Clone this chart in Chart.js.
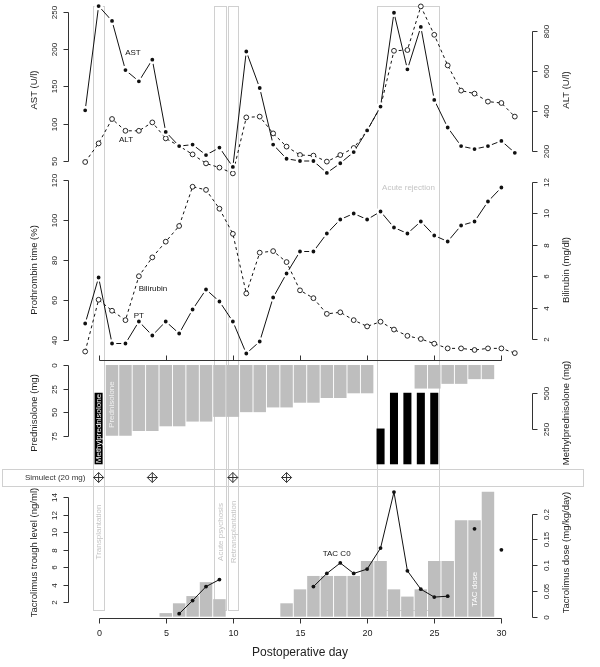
<!DOCTYPE html>
<html>
<head>
<meta charset="utf-8">
<script src="https://cdn.jsdelivr.net/npm/chart.js@4.4.0/dist/chart.umd.min.js"></script>
<style>
body { margin: 0; background: #fff; }
#wrap { position: relative; width: 600px; height: 667px; }
#wrap canvas { position: absolute; left: 0; top: 0; }
</style>
</head>
<body>
<div id="wrap">
  <canvas id="c1" width="600" height="667"></canvas>
  <canvas id="c2" width="600" height="667"></canvas>
  <canvas id="c3" width="600" height="667"></canvas>
  <canvas id="c4" width="600" height="667"></canvas>
  <canvas id="c5" width="600" height="667"></canvas>
</div>
<script>
// postoperative days, -1 .. 31
var days = [-1, 0, 1, 2, 3, 4, 5, 6, 7, 8, 9, 10, 11, 12, 13, 14, 15, 16, 17, 18, 19, 20, 21, 22, 23, 24, 25, 26, 27, 28, 29, 30, 31];

var ast = [118, 258, 238, 172, 157, 186, 89, 70, 72, 58, 68, 42, 197, 148, 72, 53, 50, 50, 34, 47, 62, 91, 123, 249, 173, 230, 132, 95, 70, 66, 70, 77, 61];
var alt = [145, 238, 360, 301, 301, 343, 263, 225, 183, 138, 117, 88, 368, 372, 288, 222, 180, 177, 147, 180, 215, 302, 421, 701, 705, 923, 781, 628, 502, 487, 447, 440, 372];
var pt = [48, 71, 38, 38, 49, 42, 49, 43, 55, 65, 59, 49, 33, 39, 61, 73, 84, 84, 93, 100, 103, 100, 104, 96, 93, 99, 92, 89, 97, 99, 109, 116, null];
var bili = [1.2, 4.5, 3.8, 3.2, 6.0, 7.2, 8.2, 9.2, 11.7, 11.5, 10.3, 8.7, 4.9, 7.5, 7.6, 6.9, 5.1, 4.6, 3.6, 3.7, 3.2, 2.8, 3.1, 2.6, 2.2, 2.0, 1.7, 1.4, 1.4, 1.3, 1.4, 1.4, 1.1];

var pred = [null, null, 75, 75, 70, 70, 65, 65, 60, 60, 55, 55, 50, 50, 45, 45, 40, 40, 35, 35, 30, 30, null, null, null, 25, 25, 20, 20, 15, 15, null, null];
var methyl = [null, 500, null, null, null, null, null, null, null, null, null, null, null, null, null, null, null, null, null, null, null, null, 250, 500, 500, 500, 500, null, null, null, null, null, null];

var tacDose = [null, null, null, null, null, null, 0.007, 0.026, 0.040, 0.067, 0.034, null, null, null, null, 0.026, 0.053, 0.079, 0.079, 0.079, 0.079, 0.108, 0.108, 0.053, 0.039, 0.053, 0.108, 0.108, 0.187, 0.187, 0.242, null, null];
var tacC0 = [null, null, null, null, null, null, null, 0.7, 2.2, 3.8, 4.6, null, null, null, null, null, null, 3.8, 5.3, 6.5, 5.3, 5.8, 8.2, 14.6, 5.6, 3.5, 2.6, 2.7, null, 10.4, null, 8.0, null];

var simulectDays = [0, 4, 10, 14];

var eventNames = ['Transplantation', 'Acute psychosis', 'Retransplantation', 'Acute rejection'];
var eventFrom = [-0.42, 8.6, 9.64, 20.74];
var eventTo = [0.4, 9.5, 10.38, 25.35];

var astTicks = [50, 100, 150, 200, 250];
var altTicks = [200, 400, 600, 800];
var ptTicks = [40, 60, 80, 100, 120];
var biliTicks = [2, 4, 6, 8, 10, 12];
var predTicks = [0, 25, 50, 75];
var methylTicks = [250, 500];
var tacTicks = [2, 4, 6, 8, 10, 12, 14];
var doseTicks = [0, 0.05, 0.1, 0.15, 0.2];
var dayTicks = [0, 5, 10, 15, 20, 25, 30];

var FONT = '"Liberation Sans", Arial, Helvetica, sans-serif';
var X_MIN = -2.28, X_MAX = 32.28;
var GREY_BAR = '#bebebe';
var AXES = {}, NOTES = {};

function xy(arr, keepNull) {
  var out = [];
  days.forEach(function(d, i) {
    if (arr[i] !== null || keepNull) out.push({x: d, y: arr[i]});
  });
  return out;
}

// R style axes: line only between first and last tick
function drawAxis(chart, a) {
  var ctx = chart.ctx, area = chart.chartArea, sc = chart.scales[a.scale];
  var ps = a.ticks.map(function(v) { return Math.round(sc.getPixelForValue(v)) + 0.5; });
  ctx.save();
  ctx.strokeStyle = '#333';
  ctx.fillStyle = '#222';
  ctx.lineWidth = 1;
  ctx.textAlign = 'center';
  ctx.textBaseline = 'middle';
  ctx.beginPath();
  if (a.side === 'left' || a.side === 'right') {
    var x0 = Math.round(a.side === 'left' ? area.left : area.right) + 0.5;
    var dir = a.side === 'left' ? -1 : 1;
    ctx.moveTo(x0, ps[0]); ctx.lineTo(x0, ps[ps.length - 1]);
    ps.forEach(function(p) { ctx.moveTo(x0, p); ctx.lineTo(x0 + dir * 5, p); });
    ctx.stroke();
    ctx.font = '8px ' + FONT;
    ps.forEach(function(p, i) {
      ctx.save();
      ctx.translate(x0 + dir * 14, p);
      ctx.rotate(-Math.PI / 2);
      ctx.fillText(String(a.ticks[i]), 0, 0);
      ctx.restore();
    });
    ctx.font = '9.5px ' + FONT;
    ctx.translate(x0 + dir * 34, (area.top + area.bottom) / 2);
    ctx.rotate(-Math.PI / 2);
    ctx.fillText(a.title, 0, 0);
  } else {
    var y0 = Math.round(a.side === 'top' ? area.top : area.bottom) + 0.5;
    var dy = a.side === 'top' ? -1 : 1;
    ctx.moveTo(ps[0], y0); ctx.lineTo(ps[ps.length - 1], y0);
    ps.forEach(function(p) { ctx.moveTo(p, y0); ctx.lineTo(p, y0 + dy * 5); });
    ctx.stroke();
    if (a.labels) {
      ctx.font = '9px ' + FONT;
      ps.forEach(function(p, i) { ctx.fillText(String(a.ticks[i]), p, y0 + 15); });
    }
    if (a.title) {
      ctx.font = '12px ' + FONT;
      ctx.fillText(a.title, (area.left + area.right) / 2, y0 + 34);
    }
  }
  ctx.restore();
}

function drawNote(chart, n) {
  var ctx = chart.ctx;
  var x = chart.scales.x.getPixelForValue(n.x);
  var y = chart.scales[n.axis].getPixelForValue(n.y);
  ctx.save();
  ctx.fillStyle = n.color || '#111';
  ctx.font = (n.size || 8) + 'px ' + FONT;
  ctx.textAlign = 'center';
  ctx.textBaseline = 'middle';
  ctx.translate(x, y);
  if (n.rotate) ctx.rotate(-Math.PI / 2);
  ctx.fillText(n.text, 0, 0);
  ctx.restore();
}

var rDecor = {
  id: 'rDecor',
  beforeDatasetsDraw: function(chart) {
    var ctx = chart.ctx, sx = chart.scales.x;
    if (chart.canvas.id === 'c1') {
      // event boxes over all panels
      ctx.save();
      ctx.strokeStyle = '#d0d0d0';
      ctx.lineWidth = 1;
      eventNames.forEach(function(name, i) {
        var x0 = Math.round(sx.getPixelForValue(eventFrom[i])) + 0.5;
        var x1 = Math.round(sx.getPixelForValue(eventTo[i])) + 0.5;
        ctx.strokeRect(x0, 6.5, x1 - x0, 604);
        ctx.save();
        ctx.fillStyle = '#c4c4c4';
        ctx.font = '8px ' + FONT;
        ctx.textAlign = 'center';
        ctx.textBaseline = 'middle';
        if (i === 3) {
          ctx.fillText(name, (x0 + x1) / 2, 188);
        } else {
          ctx.translate((x0 + x1) / 2, 532);
          ctx.rotate(-Math.PI / 2);
          ctx.fillText(name, 0, 0);
        }
        ctx.restore();
      });
      ctx.restore();
    }
    if (chart.canvas.id === 'c4') {
      ctx.save();
      ctx.strokeStyle = '#d0d0d0';
      ctx.lineWidth = 1;
      ctx.strokeRect(2.5, 469.5, 581, 17);
      ctx.fillStyle = '#333';
      ctx.font = '8px ' + FONT;
      ctx.textBaseline = 'middle';
      ctx.fillText('Simulect (20 mg)', 25, 478);
      ctx.restore();
    }
  },
  afterDatasetsDraw: function(chart) {
    (AXES[chart.canvas.id] || []).forEach(function(a) { drawAxis(chart, a); });
    (NOTES[chart.canvas.id] || []).forEach(function(n) { drawNote(chart, n); });
  }
};

function baseOptions(top, bottom, scales) {
  scales.x = {type: 'linear', min: X_MIN, max: X_MAX, offset: false, display: false};
  return {
    responsive: false,
    animation: false,
    events: [],
    layout: {autoPadding: false, padding: {left: 68, right: 68, top: top, bottom: 667 - bottom}},
    plugins: {legend: {display: false}, tooltip: {enabled: false}},
    scales: scales
  };
}

// filled dots get a white ring so the line stops short of them (like R type "b")
function lineSet(data, axis, open, dash, noRing) {
  var ring = !open && !noRing;
  return {
    type: 'line',
    data: data,
    yAxisID: axis,
    borderColor: '#111',
    borderWidth: 1,
    borderDash: dash ? [3, 3] : [],
    tension: 0,
    clip: false,
    pointRadius: open ? 2.4 : (ring ? 3.1 : 1.9),
    pointBorderWidth: open ? 0.9 : (ring ? 2.4 : 0),
    pointBorderColor: open ? '#111' : '#fff',
    pointBackgroundColor: open ? '#fff' : '#111'
  };
}

// panel 1: AST / ALT
AXES.c1 = [
  {scale: 'ast', side: 'left', ticks: astTicks, title: 'AST (U/l)'},
  {scale: 'alt', side: 'right', ticks: altTicks, title: 'ALT (U/l)'}
];
NOTES.c1 = [
  {x: 2.56, axis: 'ast', y: 195, text: 'AST'},
  {x: 2.04, axis: 'ast', y: 78, text: 'ALT'}
];
new Chart(document.getElementById('c1'), {
  type: 'line',
  data: {datasets: [
    lineSet(xy(ast, true), 'ast', false, false),
    lineSet(xy(alt, true), 'alt', true, true)
  ]},
  options: baseOptions(0, 180, {
    ast: {type: 'linear', position: 'left', min: 24.5, max: 266.1, display: false},
    alt: {type: 'linear', position: 'right', min: 55, max: 955, display: false}
  }),
  plugins: [rDecor]
});

// panel 2: prothrombin time / bilirubin
AXES.c2 = [
  {scale: 'pt', side: 'left', ticks: ptTicks, title: 'Prothrombin time (%)'},
  {scale: 'bili', side: 'right', ticks: biliTicks, title: 'Bilirubin (mg/dl)'}
];
NOTES.c2 = [
  {x: 4.05, axis: 'pt', y: 65.3, text: 'Bilirubin'},
  {x: 3.0, axis: 'pt', y: 51.8, text: 'PT'}
];
new Chart(document.getElementById('c2'), {
  type: 'line',
  data: {datasets: [
    lineSet(xy(pt, true), 'pt', false, false),
    lineSet(xy(bili, true), 'bili', true, true)
  ]},
  options: baseOptions(180, 360, {
    pt: {type: 'linear', position: 'left', min: 29.75, max: 119.75, display: false},
    bili: {type: 'linear', position: 'right', min: 0.66, max: 12.13, display: false}
  }),
  plugins: [rDecor]
});

// panel 3: steroids
AXES.c3 = [
  {scale: 'x', side: 'top', ticks: dayTicks},
  {scale: 'pred', side: 'left', ticks: predTicks, title: 'Prednisolone (mg)'},
  {scale: 'methyl', side: 'right', ticks: methylTicks, title: 'Methylprednisolone (mg)'}
];
NOTES.c3 = [
  {x: 0, axis: 'methyl', y: 250, text: 'Methylprednisolone', color: '#fff', rotate: true},
  {x: 1, axis: 'pred', y: 42, text: 'Prednisolone', color: '#f0f0f0', rotate: true}
];
new Chart(document.getElementById('c3'), {
  type: 'bar',
  data: {datasets: [
    {data: xy(methyl), yAxisID: 'methyl', backgroundColor: '#000', grouped: false,
     categoryPercentage: 1, barPercentage: 0.6},
    {data: xy(pred), yAxisID: 'pred', backgroundColor: GREY_BAR, grouped: false,
     categoryPercentage: 1, barPercentage: 0.93}
  ]},
  options: baseOptions(360, 466, {
    pred: {type: 'linear', position: 'left', reverse: true, min: -5.3, max: 107.1, display: false},
    methyl: {type: 'linear', position: 'right', min: -11.9, max: 729, display: false}
  }),
  plugins: [rDecor]
});

// Simulect doses
new Chart(document.getElementById('c4'), {
  type: 'line',
  data: {datasets: [
    {data: simulectDays.map(function(d) { return {x: d, y: 0}; }), yAxisID: 'y', showLine: false,
     pointStyle: 'rectRot', pointRadius: 5, pointBorderWidth: 1, pointBorderColor: '#333',
     pointBackgroundColor: 'rgba(0,0,0,0)', clip: false},
    {data: simulectDays.map(function(d) { return {x: d, y: 0}; }), yAxisID: 'y', showLine: false,
     pointStyle: 'cross', pointRadius: 5, pointBorderWidth: 1, pointBorderColor: '#333', clip: false}
  ]},
  options: baseOptions(469, 486, {
    y: {type: 'linear', min: -1, max: 1, display: false}
  }),
  plugins: [rDecor]
});

// panel 4: tacrolimus
AXES.c5 = [
  {scale: 'x', side: 'bottom', ticks: dayTicks, labels: true, title: 'Postoperative day'},
  {scale: 'tac', side: 'left', ticks: tacTicks, title: 'Tacrolimus trough level (ng/ml)'},
  {scale: 'dose', side: 'right', ticks: doseTicks, title: 'Tacrolimus dose (mg/kg/day)'}
];
NOTES.c5 = [
  {x: 17.73, axis: 'tac', y: 7.5, text: 'TAC C0'},
  {x: 28, axis: 'dose', y: 0.053, text: 'TAC dose', color: '#fff', rotate: true}
];
var c0 = lineSet(xy(tacC0, true), 'tac', false, false, true);
new Chart(document.getElementById('c5'), {
  type: 'bar',
  data: {datasets: [
    c0,
    {data: xy(tacDose), yAxisID: 'dose', backgroundColor: GREY_BAR, grouped: false,
     categoryPercentage: 1, barPercentage: 0.93}
  ]},
  options: baseOptions(487, 618, {
    tac: {type: 'linear', position: 'left', min: 0.21, max: 15.18, display: false},
    dose: {type: 'linear', position: 'right', min: -0.0025, max: 0.2514, display: false}
  }),
  plugins: [rDecor]
});
</script>
</body>
</html>
